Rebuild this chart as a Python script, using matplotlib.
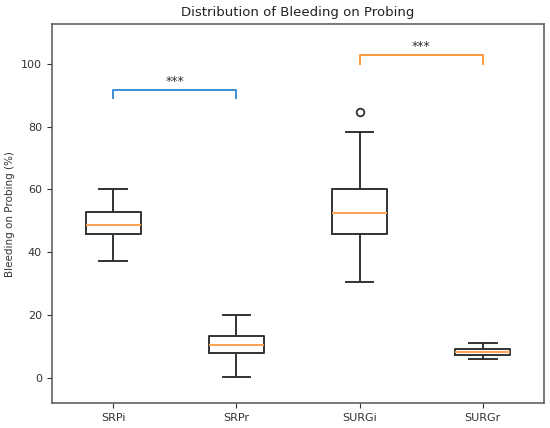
import matplotlib
matplotlib.use("Agg")
import matplotlib.pyplot as plt

groups = ["SRPi", "SRPr", "SURGi", "SURGr"]
whislo = [37.3, 0.3, 30.4, 6.0]
q1 = [45.9, 7.7, 45.8, 7.3]
med = [48.6, 10.5, 52.3, 8.3]
q3 = [52.7, 13.2, 60.1, 9.1]
whishi = [60.0, 19.9, 78.2, 10.9]
fliers = [[], [], [84.7], []]

# significance brackets: (left group, right group, base level, label, colour)
pairs = [(1, 2), (3, 4)]
bracket_base = [89.0, 100.0]
bracket_labels = ["***", "***"]
bracket_colors = ["#3a8fd4", "#ff9a3c"]

stats = []
for i, g in enumerate(groups):
    stats.append({"label": g, "whislo": whislo[i], "q1": q1[i], "med": med[i],
                  "q3": q3[i], "whishi": whishi[i], "fliers": fliers[i]})

fig, ax = plt.subplots(figsize=(5.5, 4.28), dpi=100)
fig.subplots_adjust(left=0.094, right=0.9896, top=0.944, bottom=0.0577)

lw = 1.4
ax.bxp(stats, positions=[1, 2, 3, 4], widths=0.45,
       boxprops=dict(color="#333333", lw=lw), whiskerprops=dict(color="#333333", lw=lw),
       capprops=dict(color="#333333", lw=lw), medianprops=dict(color="#ffa050", lw=lw),
       flierprops=dict(markeredgecolor="#333333", markersize=5.5, markeredgewidth=1.3))

h = 2.7
for (a, b), y, lab, c in zip(pairs, bracket_base, bracket_labels, bracket_colors):
    ax.plot([a, a, b, b], [y, y + h, y + h, y], color=c, lw=1.4)
    ax.text((a + b) / 2, y + h + 0.6, lab, ha="center", va="bottom", fontsize=9, color="#333333")

ax.set_ylim(-8.2, 112.7)
ax.set_xlim(0.5, 4.5)
ax.set_title("Distribution of Bleeding on Probing", fontsize=9.5, color="#222222")
ax.set_ylabel("Bleeding on Probing (%)", fontsize=7.5, color="#333333")
ax.tick_params(labelsize=8, colors="#333333")
for s in ax.spines.values():
    s.set_color("#555555")
    s.set_linewidth(1.1)

plt.savefig("out.png")
